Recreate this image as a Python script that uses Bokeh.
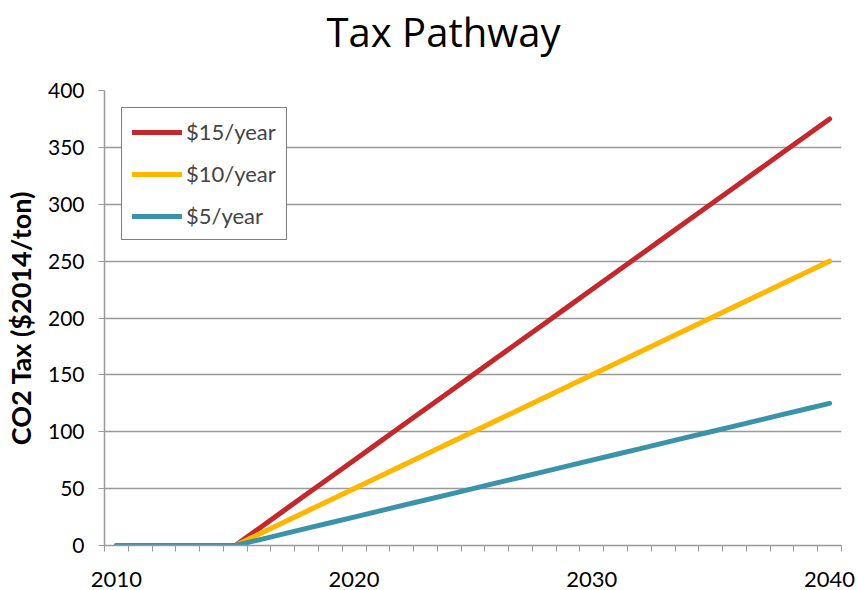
from bokeh.plotting import figure
from bokeh.models import FixedTicker, Legend, LegendItem, Range1d, Title
from bokeh.embed import file_html
from bokeh.resources import INLINE

years = list(range(2010, 2041))
tax_15 = [0, 0, 0, 0, 0, 0, 15, 30, 45, 60, 75, 90, 105, 120, 135, 150, 165, 180, 195,
          210, 225, 240, 255, 270, 285, 300, 315, 330, 345, 360, 375]
tax_10 = [0, 0, 0, 0, 0, 0, 10, 20, 30, 40, 50, 60, 70, 80, 90, 100, 110, 120, 130,
          140, 150, 160, 170, 180, 190, 200, 210, 220, 230, 240, 250]
tax_5 = [0, 0, 0, 0, 0, 0, 5, 10, 15, 20, 25, 30, 35, 40, 45, 50, 55, 60, 65,
         70, 75, 80, 85, 90, 95, 100, 105, 110, 115, 120, 125]
series_names = ["$15/year", "$10/year", "$5/year"]
x_tick_labels = [2010, 2020, 2030, 2040]
y_ticks = [0, 50, 100, 150, 200, 250, 300, 350, 400]
title_text = "Tax Pathway"

colors = ["#C3282D", "#FFB600", "#3A93A8"]
GRAY = "#9a9a9a"

p = figure(width=858, height=590, output_backend="svg", toolbar_location=None,
           x_range=Range1d(2009.5, 2040.5), y_range=Range1d(0, 400))
p.min_border_left = 103
p.min_border_right = 17
p.min_border_top = 90
p.min_border_bottom = 45
p.outline_line_color = None
p.background_fill_color = "white"
p.border_fill_color = "white"

# spacer between frame and title (closest to the frame)
spacer = Title(text=" ", text_font_size="1px", standoff=38)
p.add_layout(spacer, "above")
t = Title(text=title_text, align="left", vertical_align="bottom", text_font="Open Sans",
          text_font_size="40px", text_font_style="normal", text_color="black",
          offset=222, standoff=-18)
p.add_layout(t, "above")

renderers = []
for vals, c in zip([tax_15, tax_10, tax_5], colors):
    r = p.line(years, vals, line_color=c, line_width=5, line_cap="round", line_join="round")
    renderers.append(r)

# x axis (category style: labels at years, ticks between)
xa = p.xaxis[0]
xa.ticker = FixedTicker(ticks=x_tick_labels,
                        minor_ticks=[y + 0.5 for y in range(2009, 2041)])
xa.major_tick_out = 0
xa.major_tick_in = 0
xa.minor_tick_out = 6
xa.minor_tick_in = 0
xa.minor_tick_line_color = GRAY
xa.axis_line_color = GRAY
xa.axis_line_width = 1.5
xa.major_label_standoff = 20
xa.major_label_text_font = "Lato"
xa.major_label_text_font_size = "22px"
xa.major_label_text_color = "black"

ya = p.yaxis[0]
ya.ticker = FixedTicker(ticks=y_ticks)
ya.minor_tick_out = 0
ya.minor_tick_in = 0
ya.major_tick_out = 6
ya.major_tick_in = 0
ya.major_tick_line_color = GRAY
ya.axis_line_color = GRAY
ya.axis_line_width = 1.5
ya.major_label_standoff = 14
ya.major_label_text_font = "Lato"
ya.major_label_text_font_size = "21px"
ya.major_label_text_color = "black"
ya.axis_label = "CO2 Tax ($2014/ton)"
ya.axis_label_text_font = "Lato"
ya.axis_label_text_font_style = "bold"
ya.axis_label_text_font_size = "27px"
ya.axis_label_text_color = "black"
ya.axis_label_standoff = 8

p.xgrid.grid_line_color = None
p.ygrid.grid_line_color = GRAY
p.ygrid.grid_line_width = 1.5

legend = Legend(items=[LegendItem(label=n, renderers=[r]) for n, r in zip(series_names, renderers)],
                location="top_left", margin=17, padding=10, spacing=15,
                glyph_width=50, glyph_height=20, label_height=20, label_standoff=4,
                label_text_font="Lato", label_text_font_size="22px",
                border_line_color="black", border_line_width=1.5,
                background_fill_color="white", background_fill_alpha=1)
p.add_layout(legend, "center")

open("out.html", "w").write(file_html(p, INLINE))
